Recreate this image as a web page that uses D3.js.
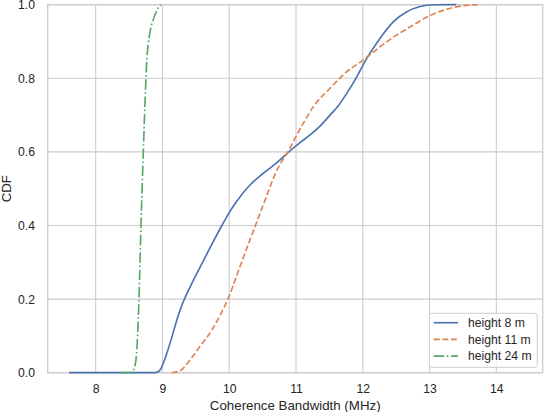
<html>
<head>
    <meta charset="utf-8">
    <script src="https://d3js.org/d3.v7.min.js"></script>
    <style>
      body { margin: 0; background: white; }
      text { font-family: "Liberation Sans", Arial, sans-serif; fill: #262626; }
    </style>
</head>
<body>
    <div id="my_dataviz"></div>

<script>
    // CDF curves (x = MHz, y = CDF)
    const h8x = [7.60, 8.88, 8.94, 8.99, 9.06, 9.14, 9.21, 9.26, 9.31, 9.46, 9.61, 9.76, 9.89, 10.00, 10.11, 10.31, 10.51, 10.71, 10.91, 11.06, 11.21, 11.36, 11.51, 11.64, 11.76, 11.91, 12.06, 12.26, 12.46, 12.66, 12.86, 13.05, 13.40]
    const h8y = [0.000, 0.000, 0.003, 0.016, 0.050, 0.096, 0.140, 0.168, 0.192, 0.250, 0.303, 0.356, 0.400, 0.435, 0.465, 0.510, 0.542, 0.570, 0.603, 0.625, 0.646, 0.670, 0.700, 0.727, 0.759, 0.804, 0.854, 0.909, 0.954, 0.981, 0.995, 1.000, 1.000]

    const h11x = [9.14, 9.26, 9.41, 9.56, 9.74, 9.86, 9.985, 10.16, 10.31, 10.43, 10.56, 10.70, 10.78, 10.88, 10.96, 11.11, 11.26, 11.51, 11.76, 12.01, 12.26, 12.51, 12.75, 13.00, 13.25, 13.50, 13.75]
    const h11y = [0.000, 0.005, 0.034, 0.071, 0.116, 0.155, 0.202, 0.288, 0.361, 0.418, 0.480, 0.545, 0.572, 0.600, 0.628, 0.678, 0.723, 0.773, 0.818, 0.850, 0.886, 0.918, 0.944, 0.970, 0.987, 0.997, 1.000]

    const h24x = [8.40, 8.56, 8.573, 8.603, 8.629, 8.648, 8.678, 8.713, 8.748, 8.76, 8.81, 8.86, 8.92, 8.977]
    const h24y = [0.000, 0.000, 0.010, 0.035, 0.107, 0.200, 0.400, 0.600, 0.780, 0.831, 0.922, 0.958, 0.986, 1.000]

    const xTicks = [8, 9, 10, 11, 12, 13, 14]
    const yTicks = [0.0, 0.2, 0.4, 0.6, 0.8, 1.0]
    const seriesNames = ["height 8 m", "height 11 m", "height 24 m"]
    const seriesColors = ["#4c72b0", "#dd8452", "#55a868"]
    const seriesDash = ["none", "6,2.6", "10.5,2.6,1.6,2.6"]

    let margin = {top: 4.7, right: 1.3, bottom: 39.3, left: 47.7},
      width = 544 - margin.left - margin.right,
      height = 412 - margin.top - margin.bottom;

    const svg = d3.select("#my_dataviz")
    .append("svg")
      .attr("width", 544)
      .attr("height", 412)
    .append("g")
      .attr("transform", `translate(${margin.left}, ${margin.top})`);

    const x = d3.scaleLinear().domain([7.281, 14.695]).range([0, width])
    const y = d3.scaleLinear().domain([0, 1]).range([height, 0])

    // grid
    svg.append("g")
      .selectAll("line")
      .data(xTicks)
      .join("line")
        .attr("x1", d => x(d)).attr("x2", d => x(d))
        .attr("y1", 0).attr("y2", height)
        .style("stroke", "#cccccc").style("stroke-width", 1.1)
    svg.append("g")
      .selectAll("line")
      .data(yTicks)
      .join("line")
        .attr("x1", 0).attr("x2", width)
        .attr("y1", d => y(d)).attr("y2", d => y(d))
        .style("stroke", "#cccccc").style("stroke-width", 1.1)

    // spines
    svg.append("rect")
      .attr("width", width).attr("height", height)
      .style("fill", "none").style("stroke", "#cccccc").style("stroke-width", 1.3)

    // axes
    svg.append("g")
      .attr("transform", `translate(0, ${height})`)
      .call(d3.axisBottom(x).tickValues(xTicks).tickSize(0).tickPadding(12).tickFormat(d3.format("d")))
      .call(g => g.select(".domain").remove())
      .selectAll("text")
        .style("font-size", "12.2px")
        .style("font-family", "Liberation Sans, Arial, sans-serif")
        .style("fill", "#262626")

    svg.append("g")
      .call(d3.axisLeft(y).tickValues(yTicks).tickSize(0).tickPadding(12.7).tickFormat(d3.format(".1f")))
      .call(g => g.select(".domain").remove())
      .selectAll("text")
        .style("font-size", "12.2px")
        .style("font-family", "Liberation Sans, Arial, sans-serif")
        .style("fill", "#262626")

    svg.append("text")
      .attr("x", width / 2)
      .attr("y", height + 37.8)
      .attr("text-anchor", "middle")
      .style("font-size", "13.3px")
      .text("Coherence Bandwidth (MHz)")

    svg.append("text")
      .attr("transform", `translate(${10.5 - margin.left}, ${height / 2}) rotate(-90)`)
      .attr("text-anchor", "middle")
      .style("font-size", "13.3px")
      .text("CDF")

    // curves
    const series = [
      h8x.map((v, i) => [v, h8y[i]]),
      h11x.map((v, i) => [v, h11y[i]]),
      h24x.map((v, i) => [v, h24y[i]])
    ]
    const line = d3.line()
      .x(d => x(d[0]))
      .y(d => y(d[1]))
      .curve(d3.curveMonotoneX)

    svg.append("g")
      .selectAll("path")
      .data(series)
      .join("path")
        .attr("d", d => line(d))
        .style("fill", "none")
        .style("stroke", (d, i) => seriesColors[i])
        .style("stroke-width", 1.65)
        .style("stroke-dasharray", (d, i) => seriesDash[i])

    // legend
    let lg = svg.append("g")
      .attr("transform", `translate(${429.3 - margin.left}, ${313.3 - margin.top})`)
    lg.append("rect")
      .attr("width", 108).attr("height", 54)
      .attr("rx", 2.5).attr("ry", 2.5)
      .style("fill", "white").style("fill-opacity", 0.8)
      .style("stroke", "#cccccc").style("stroke-width", 1)
    seriesNames.forEach(function(name, i) {
      lg.append("line")
        .attr("x1", 4.4).attr("x2", 28.7)
        .attr("y1", 9.4 + i * 16.7).attr("y2", 9.4 + i * 16.7)
        .style("stroke", seriesColors[i])
        .style("stroke-width", 1.65)
        .style("stroke-dasharray", seriesDash[i])
      lg.append("text")
        .attr("x", 38.7)
        .attr("y", 9.4 + i * 16.7)
        .attr("dy", "0.35em")
        .style("font-size", "12.2px")
        .text(name)
    })
</script>
</body>
</html>
